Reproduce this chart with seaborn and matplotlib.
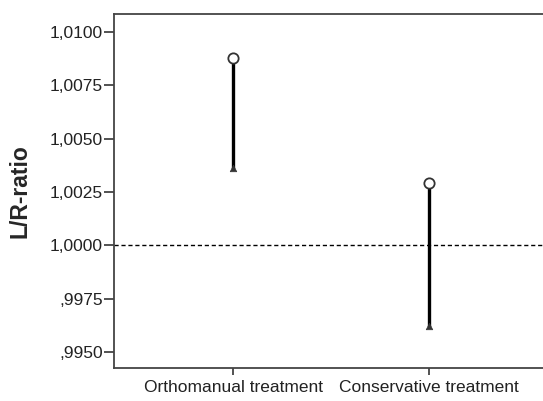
import matplotlib
matplotlib.use("Agg")
import matplotlib.pyplot as plt
import seaborn as sns
import pandas as pd
from matplotlib.ticker import FixedLocator, FuncFormatter

categories = ["Orthomanual treatment", "Conservative treatment"]
upper = [1.00879, 1.00294]
lower = [1.00364, 0.99621]
yticks = [0.9950, 0.9975, 1.0000, 1.0025, 1.0050, 1.0075, 1.0100]

sns.set_theme(style="white")
plt.rcParams["font.family"] = ["Liberation Sans", "DejaVu Sans"]

df = pd.DataFrame({
    "group": categories * 2,
    "pos": [0, 1] * 2,
    "value": upper + lower,
    "kind": ["upper"] * 2 + ["lower"] * 2,
})

fig = plt.figure(figsize=(5.43, 4.01), dpi=100)
ax = fig.add_axes([114 / 543, 1 - 368 / 401, 1 - 114 / 543 + 0.01, (368 - 14) / 401])

ax.axhline(1.0, color="black", linestyle=(0, (3, 2)), linewidth=1, zorder=1)

sns.lineplot(data=df, x="pos", y="value", units="group", estimator=None,
             color="black", linewidth=2.4, ax=ax, legend=False, zorder=2)
sns.scatterplot(data=df[df.kind == "upper"], x="pos", y="value", marker="o",
                s=55, facecolor="white", edgecolor="#333333", linewidth=1.3,
                ax=ax, legend=False, zorder=3)
sns.scatterplot(data=df[df.kind == "lower"], x="pos", y="value", marker="^",
                s=22, color="#333333", edgecolor="#333333", linewidth=0.5,
                ax=ax, legend=False, zorder=3)

ax.set_xlim(-0.61, 1.61)
ax.set_ylim(0.99425, 1.01084)
ax.xaxis.set_major_locator(FixedLocator([0, 1]))
ax.set_xticklabels(categories)
ax.yaxis.set_major_locator(FixedLocator(yticks))


def fmt(v, p):
    s = f"{v:.4f}".replace(".", ",")
    if s.startswith("0,"):
        s = s[1:]
    return s


ax.yaxis.set_major_formatter(FuncFormatter(fmt))
ax.set_xlabel("")
ax.set_ylabel("L/R-ratio", fontsize=16.5, fontweight="bold")
ax.yaxis.set_label_coords(-0.19, 0.5)

for side in ["left", "bottom", "top"]:
    ax.spines[side].set_visible(True)
    ax.spines[side].set_color("#444444")
    ax.spines[side].set_linewidth(1.3)
ax.spines["right"].set_visible(False)

ax.tick_params(axis="y", which="major", direction="out", length=7, width=1.3,
               color="#444444", labelsize=12.5, pad=1, left=True)
ax.tick_params(axis="x", which="major", direction="out", length=5, width=1.3,
               color="#444444", labelsize=12.5, pad=4, bottom=True)
for lbl in ax.get_yticklabels() + ax.get_xticklabels():
    lbl.set_color("#222222")

fig.savefig("out.png", dpi=100, facecolor="white")
